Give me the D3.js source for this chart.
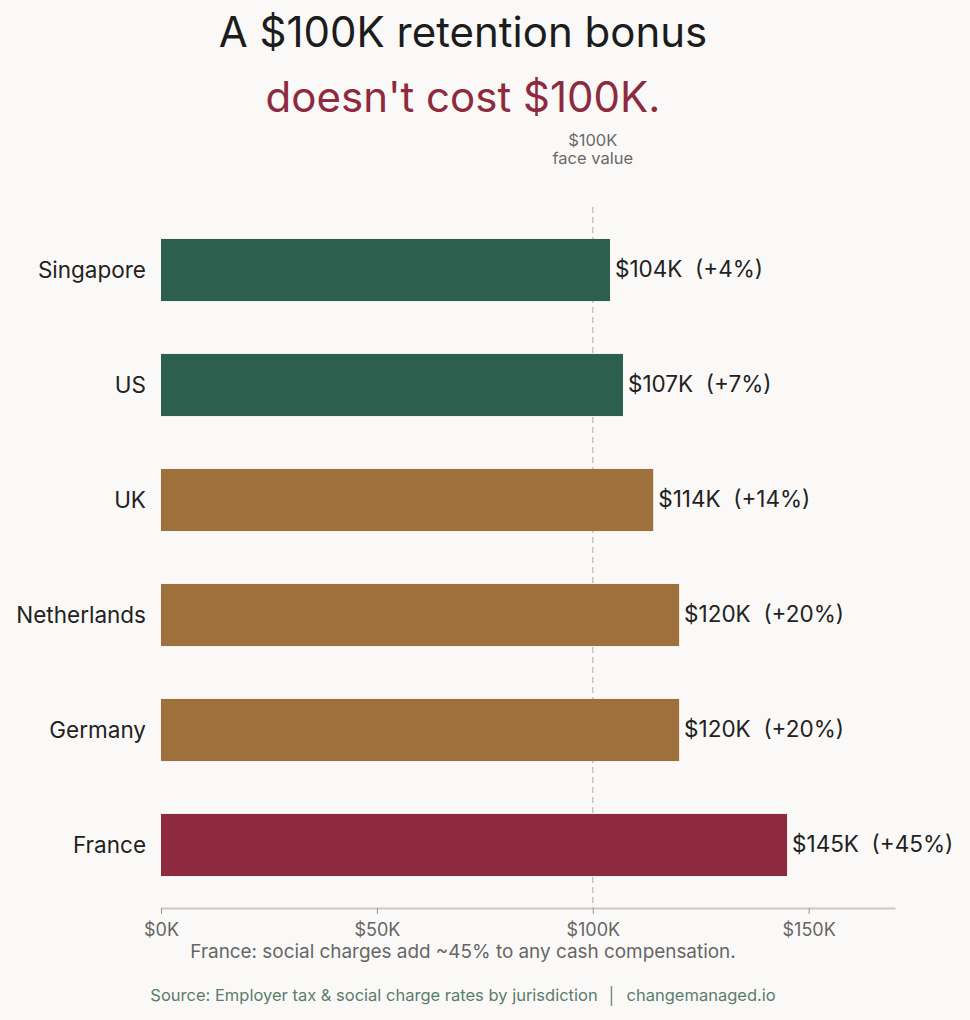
<!DOCTYPE html>
<html>
<head>
<meta charset="utf-8">
<script src="https://cdn.jsdelivr.net/npm/d3@7"></script>
<style>
  body { margin: 0; background: #faf9f7; }
  svg { display: block; font-family: Inter, "Noto Sans", sans-serif; }
</style>
</head>
<body>
<script>
// data
let countries = ["Singapore", "US", "UK", "Netherlands", "Germany", "France"],
    costs = [104, 107, 114, 120, 120, 145],   // true cost in $K of a $100K bonus
    tier = ["low", "low", "mid", "mid", "mid", "high"],
    ticks = [0, 50, 100, 150],
    faceValue = 100;

let w = 970, h = 1020;
let colors = { low: "#2d5f4f", mid: "#9e713c", high: "#8e2a3e" };

let svg = d3.select("body").append("svg").attr("width", w).attr("height", h);

let x = d3.scaleLinear().domain([0, 170]).range([161, 895]);
let y = d3.scaleBand().domain(countries).range([212.5, 902.5])
  .paddingInner(0.46).paddingOuter(0.23);

// titles
svg.append("text").attr("x", 463).attr("y", 47).attr("text-anchor", "middle")
  .attr("font-size", 42).attr("fill", "#1c1c1c").text("A $100K retention bonus");
svg.append("text").attr("x", 463).attr("y", 112).attr("text-anchor", "middle")
  .attr("font-size", 42).attr("fill", "#8e2a3e").text("doesn't cost $100K.");

// reference line
svg.append("line")
  .attr("x1", x(faceValue)).attr("x2", x(faceValue))
  .attr("y1", 207).attr("y2", 908)
  .attr("stroke", "#c9c5bf").attr("stroke-width", 1.5).attr("stroke-dasharray", "6,4");
svg.append("text").attr("x", x(faceValue)).attr("y", 146).attr("text-anchor", "middle")
  .attr("font-size", 16.5).attr("fill", "#6a6a6a").text("$100K");
svg.append("text").attr("x", x(faceValue)).attr("y", 164).attr("text-anchor", "middle")
  .attr("font-size", 16.5).attr("fill", "#6a6a6a").text("face value");

// bars
svg.selectAll("rect.bar").data(countries).enter().append("rect")
  .attr("class", "bar")
  .attr("x", x(0))
  .attr("y", d => y(d))
  .attr("width", (d, i) => x(costs[i]) - x(0))
  .attr("height", y.bandwidth())
  .attr("fill", (d, i) => colors[tier[i]]);

// country labels
svg.selectAll("text.cat").data(countries).enter().append("text")
  .attr("class", "cat")
  .attr("x", 146)
  .attr("y", d => y(d) + y.bandwidth() / 2)
  .attr("dy", "0.35em")
  .attr("text-anchor", "end")
  .attr("font-size", 22.5).attr("fill", "#222")
  .text(d => d);

// value labels
svg.selectAll("text.val").data(countries).enter().append("text")
  .attr("class", "val")
  .attr("x", (d, i) => x(costs[i]) + 5)
  .attr("y", d => y(d) + y.bandwidth() / 2)
  .attr("dy", "0.33em")
  .attr("font-size", 22.5).attr("fill", "#222")
  .style("white-space", "pre")
  .text((d, i) => "$" + costs[i] + "K  (+" + Math.round(costs[i] - faceValue) + "%)");

// x axis
let axis = svg.append("g").attr("transform", "translate(0,908)")
  .call(d3.axisBottom(x).tickValues(ticks).tickFormat(d => "$" + d + "K").tickSize(6).tickSizeOuter(0));
axis.select(".domain").attr("stroke", "#cfc8c0").attr("stroke-width", 2);
axis.selectAll(".tick line").attr("stroke", "#9a948e");
axis.selectAll(".tick text").attr("font-size", 18).attr("fill", "#666")
  .attr("font-family", "Inter, sans-serif").attr("dy", "1.05em");

// notes
svg.append("text").attr("x", 463).attr("y", 958).attr("text-anchor", "middle")
  .attr("font-size", 18.9).attr("fill", "#666")
  .text("France: social charges add ~45% to any cash compensation.");
svg.append("text").attr("x", 463).attr("y", 1001).attr("text-anchor", "middle")
  .attr("font-size", 16.5).attr("fill", "#5b7d6c")
  .style("white-space", "pre")
  .text("Source: Employer tax & social charge rates by jurisdiction  │  changemanaged.io");
</script>
</body>
</html>
